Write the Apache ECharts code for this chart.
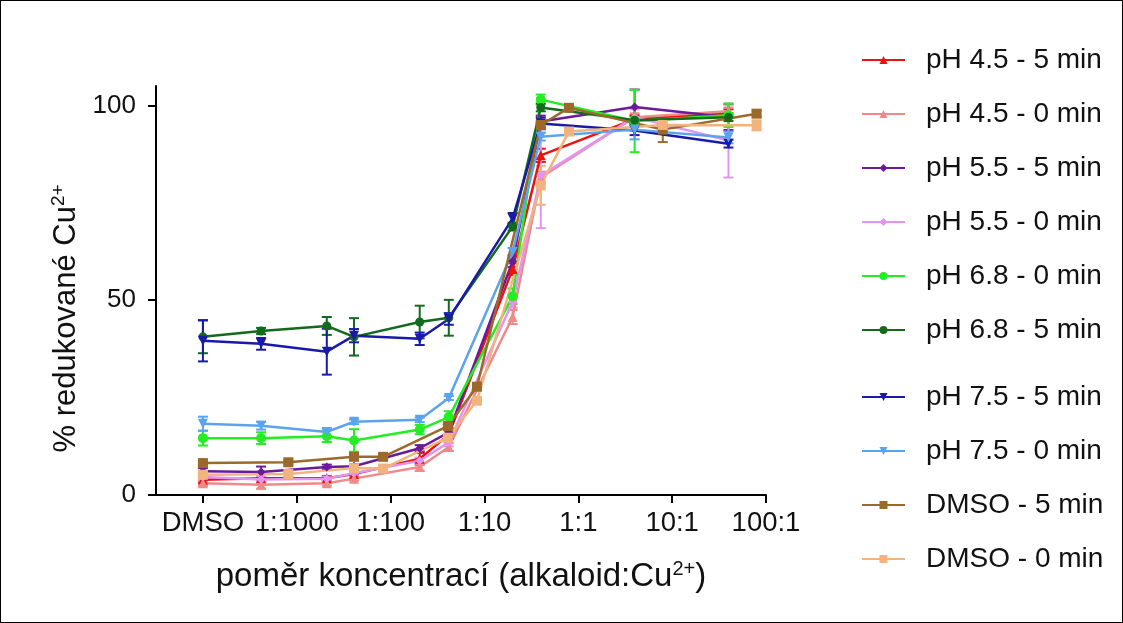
<!DOCTYPE html>
<html>
<head>
<meta charset="utf-8">
<script src="https://cdn.jsdelivr.net/npm/echarts@6/dist/echarts.min.js"></script>
<style>
html,body{margin:0;padding:0;background:#fff;}
#c{width:1123px;height:623px;box-sizing:border-box;border:1px solid #000;}
</style>
</head>
<body>
<div id="c"></div>
<script>
// Tick labels (log-position index 0..6)
var tickLabels = ['DMSO', '1:1000', '1:100', '1:10', '1:1', '10:1', '100:1'];
// x positions (in tick units) of measured points
var xPh   = [0, 0.62, 1.32, 1.61, 2.31, 2.62, 3.30, 3.60, 4.60, 5.60];
var xDmso = [0, 0.91, 1.61, 1.92, 2.61, 2.92, 3.60, 3.90, 4.90, 5.90];

var seriesNames = ['pH 4.5 - 5 min','pH 4.5 - 0 min','pH 5.5 - 5 min','pH 5.5 - 0 min','pH 6.8 - 0 min',
                   'pH 6.8 - 5 min','pH 7.5 - 5 min','pH 7.5 - 0 min','DMSO - 5 min','DMSO - 0 min'];

var ph45_5 = [3.9, 4.3, 4.3, 5.4, 9.3, 15.5, 58.0, 87.2, 96.5, 98.0];
var ph45_0 = [3.0, 2.6, 3.0, 4.2, 7.2, 12.3, 45.7, 81.5, 97.0, 98.5];
var ph55_5 = [6.1, 5.9, 7.2, 7.4, 12.0, 16.1, 60.0, 95.9, 99.6, 97.0];
var ph55_0 = [4.6, 4.0, 4.2, 5.6, 8.8, 13.5, 49.6, 82.0, 97.0, 91.0];
var ph68_0 = [14.6, 14.6, 15.1, 14.0, 16.8, 20.0, 51.0, 101.5, 96.0, 97.5];
var ph68_5 = [40.6, 42.1, 43.4, 40.6, 44.4, 45.5, 68.9, 99.5, 96.2, 97.0];
var ph75_5 = [39.6, 38.8, 36.8, 40.9, 40.1, 45.2, 71.0, 95.4, 93.6, 90.2];
var ph75_0 = [18.3, 17.8, 16.2, 18.8, 19.3, 24.9, 62.4, 92.0, 93.8, 91.8];
var dmso_5 = [8.2, 8.4, 9.8, 9.8, 17.7, 27.8, 95.0, 99.4, 93.8, 97.9];
var dmso_0 = [5.2, 5.4, 6.9, 6.8, 14.7, 24.2, 79.5, 93.3, 95.0, 94.9];

// error (± SD) per point
var err45_5 = [0.7, 1.0, 0.6, 0.5, 1.5, 1.0, 1.5, 1.7, 1.0, 1.0];
var err45_0 = [0.7, 1.0, 0.6, 0.5, 1.0, 1.0, 1.8, 1.5, 1.0, 1.0];
var err55_5 = [0.8, 1.4, 0.6, 0.5, 0.8, 1.0, 1.5, 1.5, 4.5, 3.3];
var err55_0 = [0.5, 0.6, 0.5, 0.5, 0.8, 1.0, 1.5, 13.5, 2.0, 9.5];
var err68_0 = [1.9, 1.5, 1.5, 2.9, 1.2, 1.5, 2.0, 1.3, 8.0, 3.0];
var err68_5 = [4.2, 0.8, 2.3, 4.8, 4.2, 4.6, 1.0, 1.0, 1.0, 1.0];
var err75_5 = [5.3, 1.5, 5.9, 1.7, 1.6, 1.5, 1.4, 1.5, 1.2, 1.0];
var err75_0 = [1.8, 1.0, 1.0, 0.6, 0.6, 0.5, 1.0, 1.0, 2.5, 1.5];
var errD_5  = [0.5, 0.5, 0.5, 0.5, 0.5, 0.5, 0.8, 0.6, 3.2, 0.8];
var errD_0  = [0.5, 0.5, 0.5, 0.5, 0.5, 0.5, 5.0, 0.6, 1.0, 1.3];

var colors = ['#ee1111','#f08a8a','#6a1b9a','#e295f0','#22ee22','#126b1c','#1a1aa8','#5ba3ee','#9b6a2a','#f2b47e'];
var symbols = ['triangle','triangle','diamond','diamond','circle','circle','triangle','triangle','rect','rect'];
var rotates = [0,0,0,0,0,0,180,180,0,0];
var sizes = [10,10,9,9,10,9,10,10,10,10];
var values = [ph45_5, ph45_0, ph55_5, ph55_0, ph68_0, ph68_5, ph75_5, ph75_0, dmso_5, dmso_0];
var errors = [err45_5, err45_0, err55_5, err55_0, err68_0, err68_5, err75_5, err75_0, errD_5, errD_0];
var xsets  = [xPh, xPh, xPh, xPh, xPh, xPh, xPh, xPh, xDmso, xDmso];

var FONT = 'Liberation Sans, Arial, sans-serif';
var series = [];
// error bars first (drawn below lines)
values.forEach(function (vals, i) {
  var xs = xsets[i];
  var d = vals.map(function (v, k) { return [xs[k], v - errors[i][k], v + errors[i][k]]; });
  series.push({
    type: 'custom',
    name: seriesNames[i] + ' err',
    silent: true,
    z: 2,
    data: d,
    renderItem: function (params, api) {
      var x = api.value(0);
      var lo = api.coord([x, api.value(1)]);
      var hi = api.coord([x, api.value(2)]);
      var w = 5;
      var st = { stroke: colors[i], lineWidth: 2 };
      return {
        type: 'group',
        children: [
          { type: 'line', shape: { x1: lo[0], y1: lo[1], x2: hi[0], y2: hi[1] }, style: st },
          { type: 'line', shape: { x1: lo[0] - w, y1: lo[1], x2: lo[0] + w, y2: lo[1] }, style: st },
          { type: 'line', shape: { x1: hi[0] - w, y1: hi[1], x2: hi[0] + w, y2: hi[1] }, style: st }
        ]
      };
    }
  });
});
values.forEach(function (vals, i) {
  var xs = xsets[i];
  series.push({
    type: 'line',
    name: seriesNames[i],
    data: vals.map(function (v, k) { return [xs[k], v]; }),
    symbol: symbols[i],
    symbolRotate: rotates[i],
    symbolSize: sizes[i],
    showAllSymbol: true,
    z: 3,
    lineStyle: { color: colors[i], width: 2.5 },
    itemStyle: { color: colors[i] },
    emphasis: { disabled: true }
  });
});

var legendCommon = {
  orient: 'vertical',
  left: 855,
  itemWidth: 43,
  itemHeight: 10,
  itemGap: 24,
  textStyle: { fontFamily: FONT, fontSize: 28, lineHeight: 30, color: '#111', padding: [0, 0, 0, 16] }
};

var option = {
  animation: false,
  backgroundColor: '#fff',
  grid: { left: 155, right: 356, top: 85, bottom: 127, containLabel: false },
  legend: [
    Object.assign({}, legendCommon, { top: 39, data: seriesNames.slice(0, 6) }),
    Object.assign({}, legendCommon, { top: 376, data: seriesNames.slice(6) })
  ],
  xAxis: {
    type: 'value',
    min: -0.5,
    max: 6,
    name: 'poměr koncentrací (alkaloid:Cu{sup|2+})',
    nameLocation: 'middle',
    nameGap: 64,
    nameTextStyle: {
      fontFamily: FONT, fontSize: 33, color: '#111',
      rich: { sup: { fontSize: 20, verticalAlign: 'top', padding: [0, 0, 15, 0], fontFamily: FONT, color: '#111' } }
    },
    splitLine: { show: false },
    axisLine: { onZero: false, lineStyle: { color: '#000', width: 2 } },
    axisTick: { show: true, customValues: [0, 1, 2, 3, 4, 5, 6], length: 8, lineStyle: { color: '#000', width: 2 } },
    axisLabel: {
      customValues: [0, 1, 2, 3, 4, 5, 6],
      formatter: function (v) { return tickLabels[Math.round(v)]; },
      fontFamily: FONT, fontSize: 27.5, color: '#111', margin: 14
    }
  },
  yAxis: {
    type: 'value',
    min: 0,
    max: 105,
    interval: 50,
    name: '% redukované Cu{sup|2+}',
    nameLocation: 'middle',
    nameGap: 62,
    nameTextStyle: {
      fontFamily: FONT, fontSize: 31, color: '#111', padding: [0, 56, 0, 0],
      rich: { sup: { fontSize: 19, verticalAlign: 'top', padding: [0, 0, 14, 0], fontFamily: FONT, color: '#111' } }
    },
    splitLine: { show: false },
    axisLine: { show: true, onZero: false, lineStyle: { color: '#000', width: 2 } },
    axisTick: { show: true, length: 8, lineStyle: { color: '#000', width: 2 } },
    axisLabel: { fontFamily: FONT, fontSize: 26, color: '#111', margin: 20 }
  },
  series: series
};

var chart = echarts.init(document.getElementById('c'), null, { renderer: 'canvas' });
chart.setOption(option);
</script>
</body>
</html>
